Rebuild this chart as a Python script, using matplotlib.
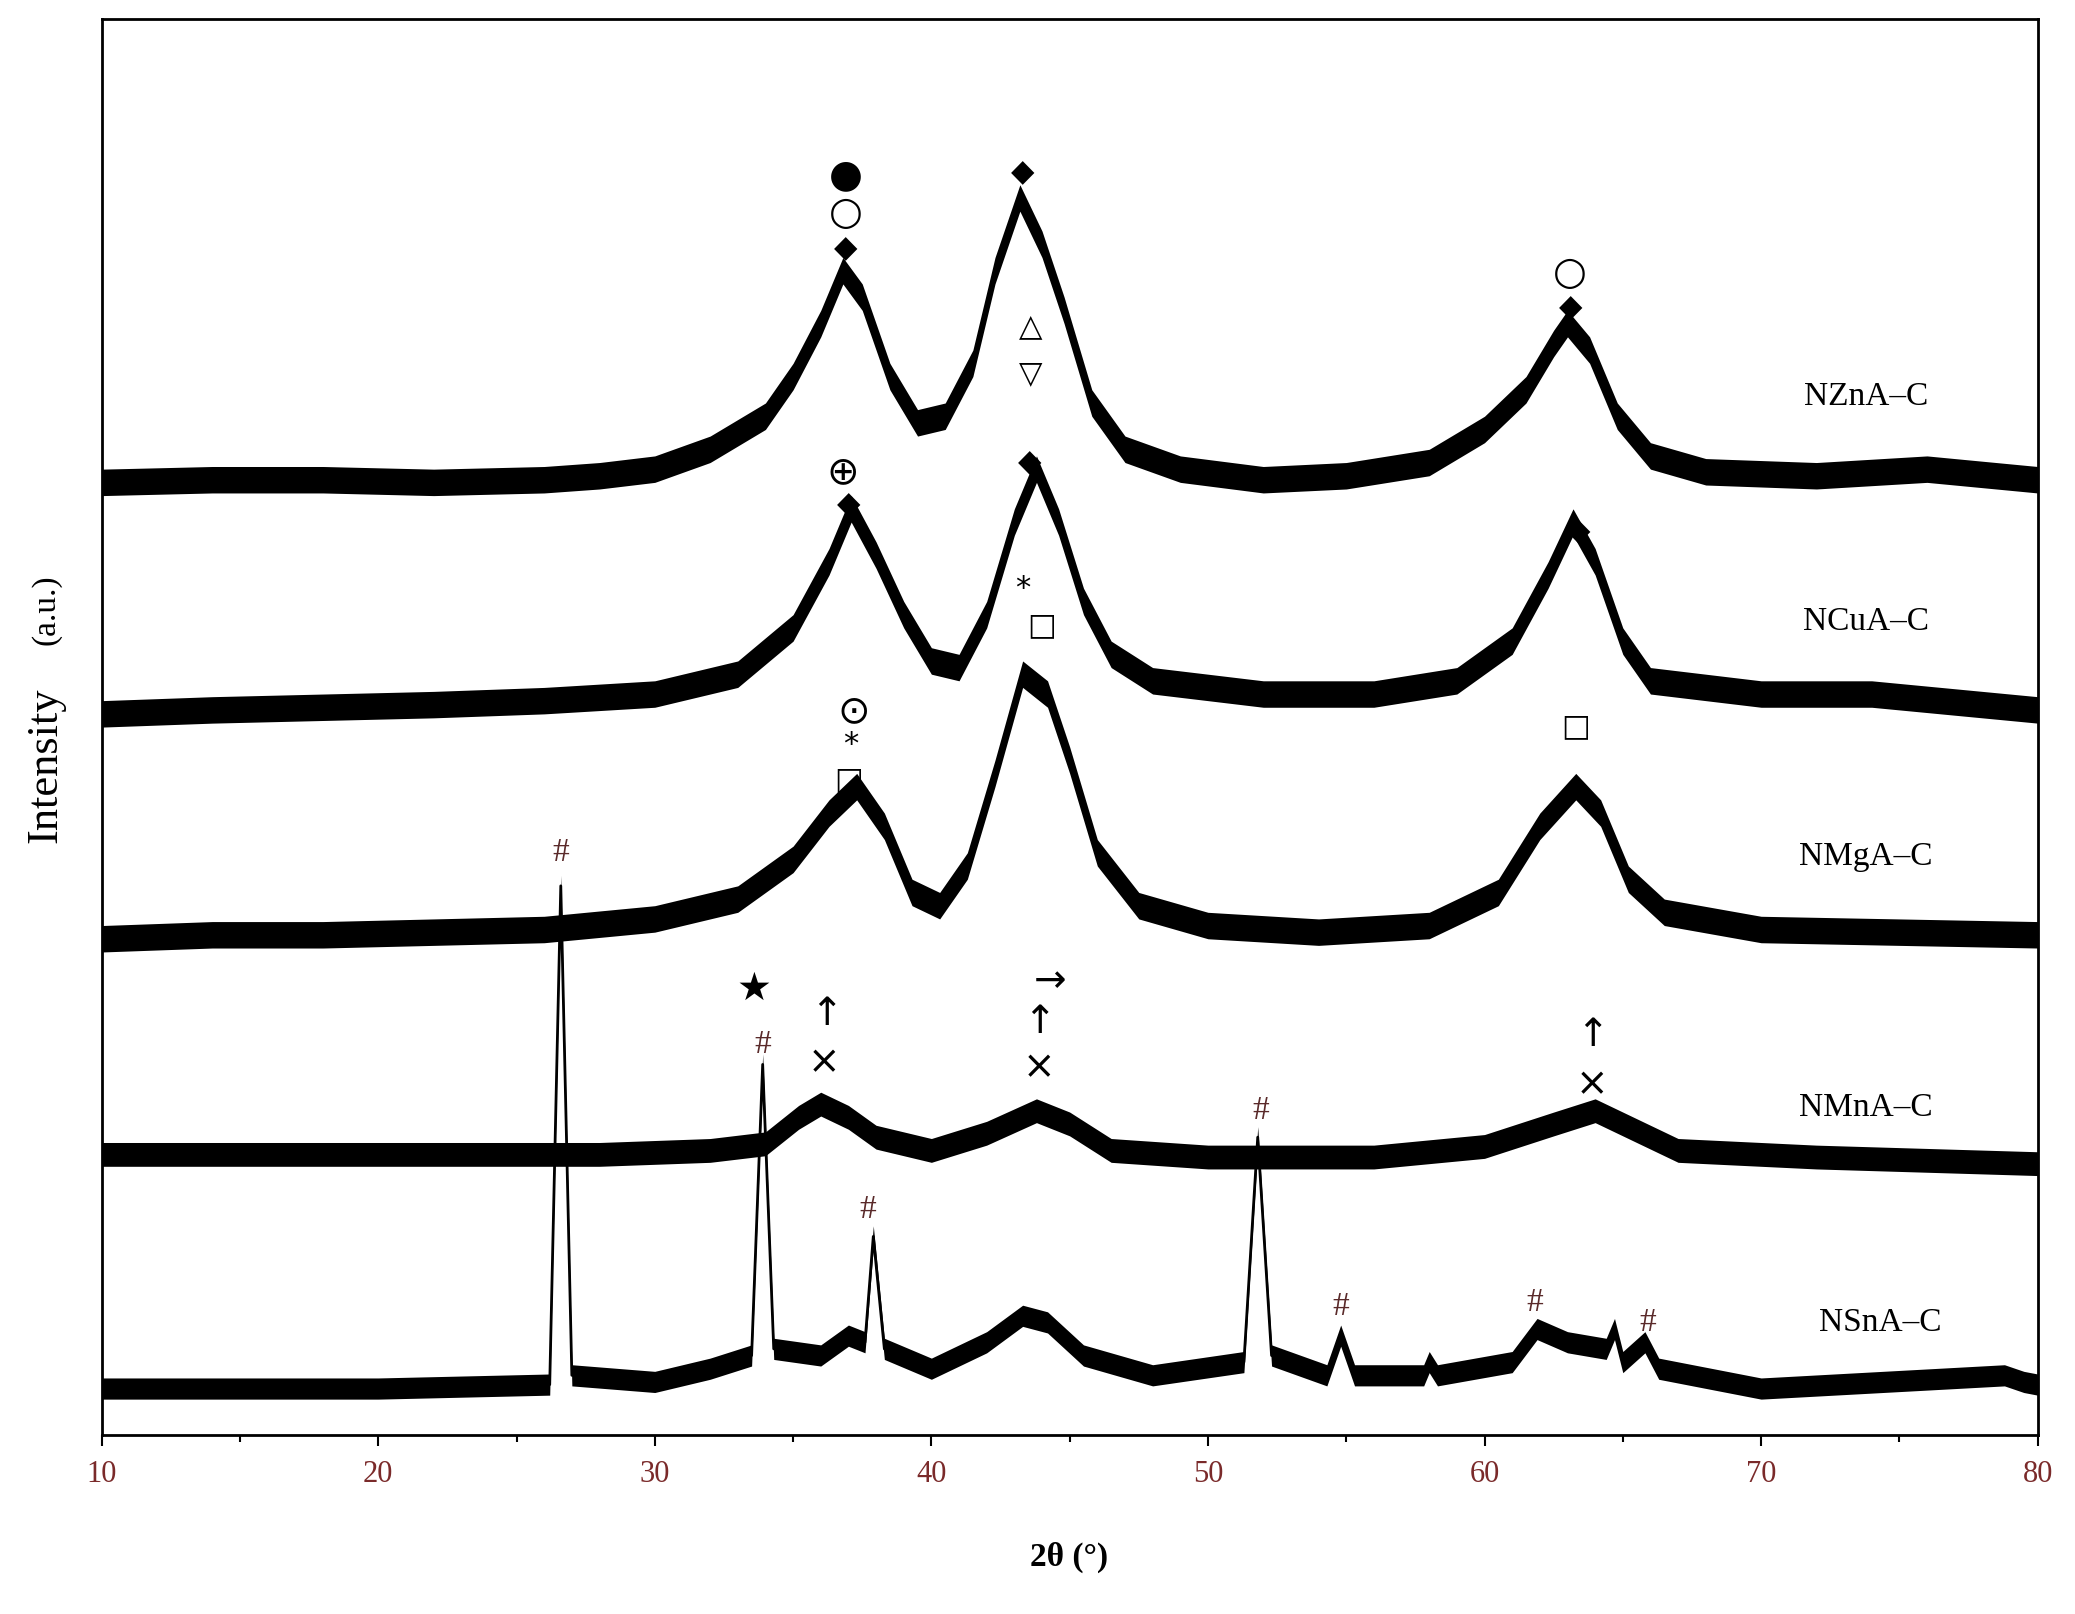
import matplotlib
matplotlib.use('Agg')
import matplotlib.pyplot as plt
import numpy as np

# ── Data (2θ in degrees, intensity in arbitrary units) ──
zn_tt = [10, 14, 18, 22, 26, 28, 30, 32, 34, 35, 36, 36.8, 37.5, 38.5, 39.5, 40.5, 41.5, 42.3, 43.2, 44, 44.8,
         45.8, 47, 49, 52, 55, 58, 60, 61.5, 62.5, 63, 63.8, 64.8, 66, 68, 72, 76, 80]
zn_int = [720, 722, 722, 720, 722, 725, 730, 745, 770, 800, 840, 880, 860, 800, 765, 770, 810, 880, 935, 900, 850,
          780, 745, 730, 722, 725, 735, 760, 790, 825, 840, 820, 770, 740, 728, 725, 730, 722]

cu_tt = [10, 14, 18, 22, 26, 30, 33, 35, 36.3, 37.1, 38, 39, 40, 41, 42, 43, 43.8, 44.6, 45.5, 46.5, 48, 52, 56,
         59, 61, 62.3, 63.2, 64, 65, 66, 70, 74, 80]
cu_int = [545, 548, 550, 552, 555, 560, 575, 610, 660, 700, 665, 620, 585, 580, 620, 690, 730, 690, 630, 590, 570,
          560, 560, 570, 600, 650, 690, 660, 600, 570, 560, 560, 548]

mg_tt = [10, 14, 18, 22, 26, 30, 33, 35, 36.3, 37.3, 38.3, 39.3, 40.3, 41.3, 42.3, 43.3, 44.2, 45, 46, 47.5, 50,
         54, 58, 60.5, 62, 63.3, 64.2, 65.2, 66.5, 70, 80]
mg_int = [375, 378, 378, 380, 382, 390, 405, 435, 470, 490, 460, 410, 400, 430, 500, 575, 560, 510, 440, 400, 385,
          380, 385, 410, 460, 490, 470, 420, 395, 382, 378]

mn_tt = [10, 20, 28, 32, 34, 35.2, 36, 37, 38, 40, 42, 43.8, 45, 46.5, 50, 56, 60, 62.5, 64, 65.5, 67, 72, 80]
mn_int = [212, 212, 212, 215, 220, 240, 250, 240, 225, 215, 228, 245, 235, 215, 210, 210, 218, 235, 245, 230,
          215, 210, 205]

sn_tt = [10, 20, 26.2, 26.6, 27.0, 30, 32, 33.5, 33.9, 34.3, 36, 37, 37.6, 37.9, 38.3, 40, 42, 43.3, 44.2, 45.5,
         48, 51.3, 51.8, 52.3, 54.3, 54.8, 55.3, 57.8, 58, 58.3, 61, 61.9, 63, 64.4, 64.7, 65, 65.8, 66.3, 70,
         78.8, 79.5, 80]
sn_int = [35, 35, 38, 415, 45, 40, 50, 60, 280, 65, 60, 75, 70, 150, 65, 50, 70, 90, 85, 60,
          45, 55, 225, 60, 45, 75, 45, 45, 55, 45, 55, 80, 70, 65, 80, 55, 70, 50, 35,
          45, 40, 38]

series = [(zn_tt, zn_int), (cu_tt, cu_int), (mg_tt, mg_int), (mn_tt, mn_int), (sn_tt, sn_int)]
noise_amp = [10, 10, 10, 9, 8]   # half-width of the noisy band

labels = ['NZnA\u2013C', 'NCuA\u2013C', 'NMgA\u2013C', 'NMnA\u2013C', 'NSnA\u2013C']
label_x = [73.8, 73.8, 73.8, 73.8, 74.3]
label_y = [785, 615, 437, 247, 85]

# phase markers: (symbol, 2θ, height)
markers = [
    ('\u25cf', 36.9, 952), ('\u25cb', 36.9, 924), ('\u25c6', 36.9, 897), ('\u25c6', 43.3, 954),
    ('\u25b3', 43.6, 838), ('\u25bd', 43.6, 802), ('\u25cb', 63.1, 878), ('\u25c6', 63.1, 852),
    ('\u2295', 36.8, 728), ('\u25c6', 37.0, 703), ('\u25c6', 43.55, 735), ('\u25c6', 63.4, 683),
    ('*', 43.3, 640), ('\u25a1', 44.0, 612),
    ('\u2299', 37.2, 547), ('*', 37.1, 522), ('\u25a1', 37.0, 495), ('\u25a1', 63.3, 535),
    ('\u2605', 33.6, 337), ('\u2191', 36.2, 318), ('\u00d7', 36.1, 282),
    ('\u2192', 44.3, 343), ('\u2191', 43.9, 312), ('\u00d7', 43.9, 278),
    ('\u2191', 63.9, 302), ('\u00d7', 63.9, 265),
]
hash_marks = [(26.6, 440), (33.9, 295), (51.9, 245), (37.7, 170), (54.8, 97), (61.8, 100), (65.9, 85)]

fig = plt.figure(figsize=(20.75, 16.14), dpi=100)
ax = fig.add_axes([0.049, 0.111, 0.933, 0.877])

for (tt, yy), amp in zip(series, noise_amp):
    tt = np.array(tt, dtype=float)
    yy = np.array(yy, dtype=float)
    ax.fill_between(tt, yy - amp, yy + amp, color='black', linewidth=0)
    ax.plot(tt, yy, color='black', linewidth=2)

for lab, lx, ly in zip(labels, label_x, label_y):
    ax.text(lx, ly, lab, ha='center', va='center', fontsize=24, family='Liberation Serif')

for sym, mx, my in markers:
    size = 28 if sym in ('\u25cb', '\u25cf', '\u2605', '\u2295', '\u2299', '\u2191', '\u2192', '\u00d7') else 22
    ax.text(mx, my, sym, ha='center', va='center', fontsize=size, family='DejaVu Sans')

for hx, hy in hash_marks:
    ax.text(hx, hy, '#', ha='center', va='center', fontsize=24, color='#5a2a2a', family='Liberation Serif')

ax.set_xlim(10, 80)
ax.set_ylim(0, 1070)
ax.set_yticks([])
ax.set_xticks(range(10, 81, 10))
ax.set_xticks(range(15, 80, 10), minor=True)
ax.tick_params(axis='x', which='major', direction='out', length=8, width=1.5,
               labelsize=22, labelcolor='#7a2a2a', pad=10)
ax.tick_params(axis='x', which='minor', direction='out', length=5, width=1.5)
for lbl in ax.get_xticklabels():
    lbl.set_family('Liberation Serif')
for sp in ax.spines.values():
    sp.set_linewidth(2)

fig.text(0.515, 0.035, '2\u03b8 (\u00b0)', ha='center', va='center', fontsize=24,
         fontweight='bold', family='Liberation Serif')
fig.text(0.022, 0.526, 'Intensity', rotation=90, ha='center', va='center', fontsize=32,
         family='Liberation Serif')
fig.text(0.022, 0.622, '(a.u.)', rotation=90, ha='center', va='center', fontsize=24,
         family='Liberation Serif')

fig.savefig('out.png', dpi=100)
